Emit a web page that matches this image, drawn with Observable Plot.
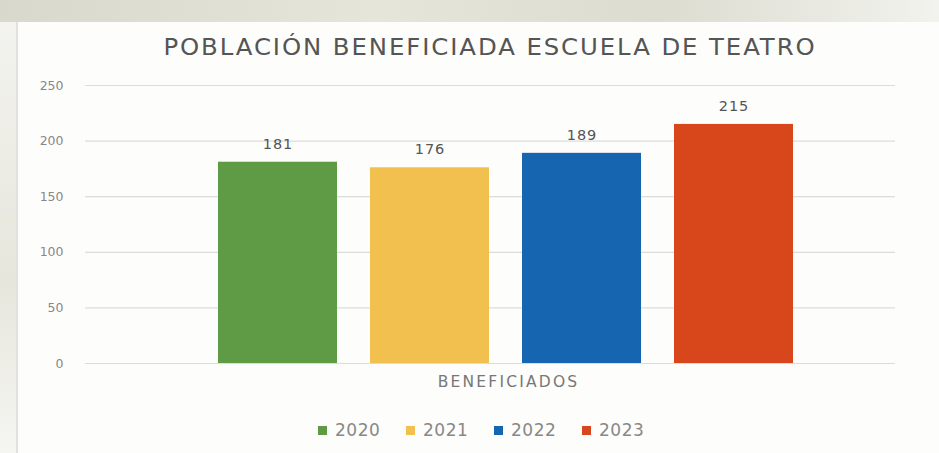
<!DOCTYPE html>
<html>
<head>
<meta charset="utf-8">
<script src="https://cdn.jsdelivr.net/npm/d3@7"></script>
<script src="https://cdn.jsdelivr.net/npm/@observablehq/plot@0.6"></script>
<style>
  body { margin: 0; background: #ffffff; font-family: "DejaVu Sans", sans-serif; }
  #wrap { position: relative; width: 939px; height: 453px; overflow: hidden; background: #fdfdfb; }
  #topband { position: absolute; left: 0; top: 0; width: 939px; height: 22px; background: linear-gradient(90deg,#d9d8cc,#e6e5da 40%,#dcdcd0 70%,#f2f2ee); }
  #leftband { position: absolute; left: 0; top: 22px; width: 16px; height: 431px; background: linear-gradient(180deg,#f3f3ef,#e7e6dc 60%,#f5f5f2); border-right: 2px solid #e2e2dc; }
  #title { position: absolute; left: 0; top: 34px; width: 980px; text-align: center; font-size: 23px; color: #555; letter-spacing: 1.8px; transform: scaleX(1.06); transform-origin: 490px 0; }
  #chart { position: absolute; left: 0; top: 70px; }
  #chart .cat text { letter-spacing: 2.2px; }
  #chart .val text { letter-spacing: 1px; }
  #legend { position: absolute; left: 318px; top: 420px; width: 400px; font-size: 17px; color: #888; letter-spacing: 0.5px; white-space: nowrap; }
  #legend span.item { display: inline-block; width: 88px; }
  #legend span.sw { display: inline-block; width: 9px; height: 9px; margin-right: 8px; vertical-align: 1px; }
</style>
</head>
<body>
<div id="wrap">
  <div id="topband"></div>
  <div id="leftband"></div>
  <div id="title">POBLACIÓN BENEFICIADA ESCUELA DE TEATRO</div>
  <div id="chart"></div>
  <div id="legend"></div>
</div>
<script>
const years = ["2020", "2021", "2022", "2023"];
const values = [181, 176, 189, 215];
const colors = ["#5f9a44", "#f2c04e", "#1665b0", "#d8471c"];
const yTicks = [0, 50, 100, 150, 200, 250];
const category = "BENEFICIADOS";

const data = years.map((y, i) => ({year: y, value: values[i]}));

const chart = Plot.plot({
  width: 939,
  height: 340,
  marginTop: 15,
  marginBottom: 47,
  marginLeft: 85,
  marginRight: 44,
  style: {fontFamily: "DejaVu Sans, sans-serif", background: "transparent"},
  x: {domain: years, range: [218, 793], paddingInner: 0.22, paddingOuter: 0, axis: null},
  y: {domain: [0, 250], ticks: yTicks},
  color: {domain: years, range: colors},
  marks: [
    Plot.ruleY(yTicks, {stroke: "#dcdcdc", strokeWidth: 1.2}),
    Plot.axisY({ticks: yTicks, tickSize: 0, tickPadding: 22, label: null, fontSize: 12.5, fill: "#888"}),
    Plot.barY(data, {x: "year", y: "value", fill: "year"}),
    Plot.text(data, {x: "year", y: "value", text: d => String(d.value), dy: -18, fontSize: 14.5, fill: "#555", className: "val"}),
    Plot.text([category], {frameAnchor: "bottom", dx: 18, dy: 23, fontSize: 15.5, fill: "#777", text: d => d, className: "cat"})
  ]
});
document.getElementById("chart").appendChild(chart);

const legend = document.getElementById("legend");
years.forEach((y, i) => {
  const item = document.createElement("span");
  item.className = "item";
  const sw = document.createElement("span");
  sw.className = "sw";
  sw.style.background = colors[i];
  item.appendChild(sw);
  item.appendChild(document.createTextNode(y));
  legend.appendChild(item);
});
</script>
</body>
</html>
